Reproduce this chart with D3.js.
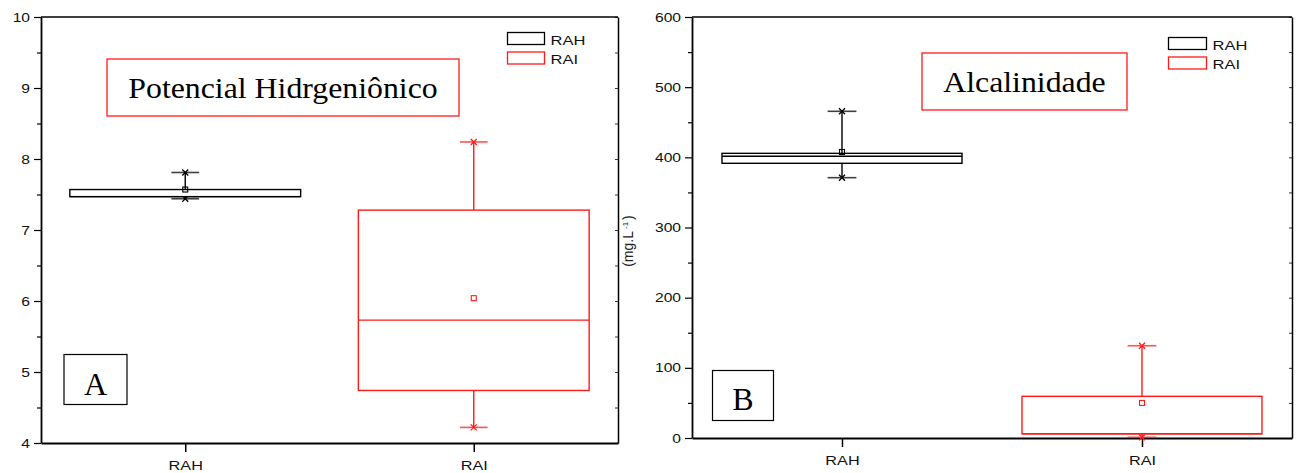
<!DOCTYPE html>
<html>
<head>
<meta charset="utf-8">
<script src="https://cdn.jsdelivr.net/npm/d3@7"></script>
<style>
	body { margin: 0; background: white; }
	svg { display: block; }
</style>
</head>
<body>
<div id="chart"></div>
<script>
// categories shared by both panels
const categories = ['RAH', 'RAI']
const seriesColors = ['#000000', '#ff1a1a']

// panel A: pH
const phMin = [7.44, 4.22]
const phQ1 = [7.47, 4.74]
const phMedian = [7.47, 5.73]
const phQ3 = [7.57, 7.28]
const phMax = [7.81, 8.24]
const phMean = [7.57, 6.04]
const phTicks = [4, 5, 6, 7, 8, 9, 10]

// panel B: alcalinidade (mg.L-1)
const alcMin = [371, 1]
const alcQ1 = [391.5, 6]
const alcMedian = [401.5, 6]
const alcQ3 = [405.7, 59.4]
const alcMax = [465.6, 131.5]
const alcMean = [407.6, 50]
const alcTicks = [0, 100, 200, 300, 400, 500, 600]

const W = 1297, H = 473
const svg = d3.select('#chart').append('svg')
	.attr('width', W)
	.attr('height', H)

// stretch text horizontally, the picture is a bit wider than tall
function stretch(sel, k) {
	sel.each(function() {
		const w = this.getComputedTextLength()
		d3.select(this)
			.attr('textLength', w * k)
			.attr('lengthAdjust', 'spacingAndGlyphs')
	})
}

function drawPanel(cfg) {
	const g = svg.append('g')

	const x = d3.scalePoint()
		.domain(categories)
		.range([cfg.left, cfg.right])
		.padding(0.5)

	const y = d3.scaleLinear()
		.domain(cfg.domain)
		.range([cfg.bottom, cfg.top])

	const width = cfg.right - cfg.left
	const boxW = width * 0.4
	const capW = width * 0.048

	// minor ticks, left (outside) and right (inside)
	const minor = d3.range(cfg.domain[0], cfg.domain[1], cfg.step / 2)
		.filter(v => !cfg.ticks.includes(v))

	g.append('g')
		.attr('transform', 'translate(' + cfg.left + ',0)')
		.call(d3.axisLeft(y).tickValues(minor).tickSize(4).tickFormat(''))
		.call(a => a.select('.domain').remove())
		.selectAll('line').attr('stroke-width', 1.2)

	const yAxis = g.append('g')
		.attr('transform', 'translate(' + cfg.left + ',0)')
		.call(d3.axisLeft(y).tickValues(cfg.ticks).tickFormat(d3.format('d'))
			.tickSize(7).tickPadding(4).tickSizeOuter(0))
	yAxis.select('.domain').attr('stroke-width', 1.8)
	yAxis.selectAll('line').attr('stroke-width', 1.2)
	yAxis.selectAll('text')
		.style('font-family', 'Liberation Sans, Arial, sans-serif')
		.style('font-size', '12.5px')
		.attr('fill', '#111')
		.call(stretch, 1.25)

	// right side ticks inward
	g.append('g')
		.attr('transform', 'translate(' + cfg.right + ',0)')
		.call(d3.axisLeft(y).tickValues(cfg.ticks.concat(minor)).tickSize(3).tickFormat('').tickSizeOuter(0))
		.call(a => a.select('.domain').attr('stroke-width', 1.5))
		.selectAll('.tick line').attr('stroke-width', 0.8)

	// top border
	g.append('line')
		.attr('x1', cfg.left).attr('x2', cfg.right)
		.attr('y1', cfg.top).attr('y2', cfg.top)
		.attr('stroke', '#000').attr('stroke-width', 1.5)

	const xAxis = g.append('g')
		.attr('transform', 'translate(0,' + cfg.bottom + ')')
		.call(d3.axisBottom(x).tickSize(9).tickPadding(9).tickSizeOuter(0))
	xAxis.select('.domain').attr('stroke-width', 1.8)
	xAxis.selectAll('line').attr('stroke-width', 1.5)
	xAxis.selectAll('text')
		.style('font-family', 'Liberation Sans, Arial, sans-serif')
		.style('font-size', '13px')
		.attr('fill', '#111')
		.call(stretch, 1.25)

	// boxes
	for (let i = 0; i < categories.length; i++) {
		const cx = x(categories[i])
		const color = seriesColors[i]
		const bg = g.append('g')
			.attr('stroke', color)
			.attr('fill', 'none')
			.attr('stroke-width', 1.4)

		// whiskers
		bg.append('line')
			.attr('x1', cx).attr('x2', cx)
			.attr('y1', y(cfg.max[i])).attr('y2', y(cfg.q3[i]))
		bg.append('line')
			.attr('x1', cx).attr('x2', cx)
			.attr('y1', y(cfg.q1[i])).attr('y2', y(cfg.min[i]))

		for (const v of [cfg.max[i], cfg.min[i]]) {
			bg.append('line')
				.attr('x1', cx - capW / 2).attr('x2', cx + capW / 2)
				.attr('y1', y(v)).attr('y2', y(v))
				.attr('stroke-opacity', 0.75)
				.attr('stroke-width', 1.6)
			bg.append('path')
				.attr('d', 'M' + (cx - 3) + ',' + (y(v) - 3) + 'L' + (cx + 3) + ',' + (y(v) + 3) +
					'M' + (cx - 3) + ',' + (y(v) + 3) + 'L' + (cx + 3) + ',' + (y(v) - 3))
				.attr('stroke-width', 1.3)
		}

		bg.append('rect')
			.attr('x', cx - boxW / 2)
			.attr('y', y(cfg.q3[i]))
			.attr('width', boxW)
			.attr('height', y(cfg.q1[i]) - y(cfg.q3[i]))
			.attr('fill', 'white')
		bg.append('line')
			.attr('x1', cx - boxW / 2).attr('x2', cx + boxW / 2)
			.attr('y1', y(cfg.median[i])).attr('y2', y(cfg.median[i]))

		bg.append('rect')
			.attr('x', cx - 2.5)
			.attr('y', y(cfg.mean[i]) - 2.5)
			.attr('width', 5)
			.attr('height', 5)
			.attr('stroke-width', 1.1)
	}

	// legend
	categories.forEach((c, i) => {
		const ly = cfg.legendY + i * 19.5
		g.append('rect')
			.attr('x', cfg.legendX)
			.attr('y', ly)
			.attr('width', cfg.legendW)
			.attr('height', 12)
			.attr('fill', 'none')
			.attr('stroke', seriesColors[i])
			.attr('stroke-width', 1.3)
		g.append('text')
			.attr('x', cfg.legendX + cfg.legendW + 6)
			.attr('y', ly + 12)
			.style('font-family', 'Liberation Sans, Arial, sans-serif')
			.style('font-size', '13px')
			.attr('fill', '#111')
			.text(c)
			.call(stretch, 1.27)
	})

	// title box
	g.append('rect')
		.attr('x', cfg.title.x0).attr('y', cfg.title.y0)
		.attr('width', cfg.title.x1 - cfg.title.x0)
		.attr('height', cfg.title.y1 - cfg.title.y0)
		.attr('fill', 'white')
		.attr('stroke', '#ff1a1a')
		.attr('stroke-width', 1.3)
	g.append('text')
		.attr('x', (cfg.title.x0 + cfg.title.x1) / 2)
		.attr('y', cfg.title.base)
		.attr('text-anchor', 'middle')
		.style('font-family', 'Liberation Serif, Times New Roman, serif')
		.style('font-size', cfg.title.size + 'px')
		.text(cfg.title.text)
		.call(stretch, 1.06)

	// letter box
	g.append('rect')
		.attr('x', cfg.letter.x0).attr('y', cfg.letter.y0)
		.attr('width', cfg.letter.x1 - cfg.letter.x0)
		.attr('height', cfg.letter.y1 - cfg.letter.y0)
		.attr('fill', 'white')
		.attr('stroke', '#000')
		.attr('stroke-width', 1.2)
	g.append('text')
		.attr('x', (cfg.letter.x0 + cfg.letter.x1) / 2)
		.attr('y', cfg.letter.base)
		.attr('text-anchor', 'middle')
		.style('font-family', 'Liberation Serif, Times New Roman, serif')
		.style('font-size', '32px')
		.text(cfg.letter.text)

	return g
}

drawPanel({
	left: 41, right: 618, top: 17, bottom: 443,
	domain: [4, 10], step: 1, ticks: phTicks,
	min: phMin, q1: phQ1, median: phMedian, q3: phQ3, max: phMax, mean: phMean,
	legendX: 507.5, legendY: 32.5, legendW: 37,
	title: { x0: 107, x1: 459, y0: 59, y1: 116, base: 97.5, size: 30, text: 'Potencial Hidrgeniônico' },
	letter: { x0: 64, x1: 127, y0: 354.5, y1: 404.5, base: 394.5, text: 'A' }
})

drawPanel({
	left: 692, right: 1292, top: 17, bottom: 438,
	domain: [0, 600], step: 100, ticks: alcTicks,
	min: alcMin, q1: alcQ1, median: alcMedian, q3: alcQ3, max: alcMax, mean: alcMean,
	legendX: 1168.5, legendY: 37.5, legendW: 38,
	title: { x0: 922, x1: 1127, y0: 53, y1: 110, base: 91.5, size: 30, text: 'Alcalinidade' },
	letter: { x0: 712.5, x1: 773.5, y0: 370.5, y1: 420.5, base: 410, text: 'B' }
})

// y label of panel B
const ylab = svg.append('text')
	.attr('transform', 'translate(633,241) rotate(-90)')
	.attr('text-anchor', 'middle')
	.style('font-family', 'Liberation Sans, Arial, sans-serif')
	.style('font-size', '14px')
	.attr('fill', '#222')
ylab.append('tspan').text('(mg.L')
ylab.append('tspan').attr('dx', 2).attr('dy', -5).style('font-size', '8px').text('-1')
ylab.append('tspan').attr('dx', 2).attr('dy', 5).text(')')
</script>
</body>
</html>
